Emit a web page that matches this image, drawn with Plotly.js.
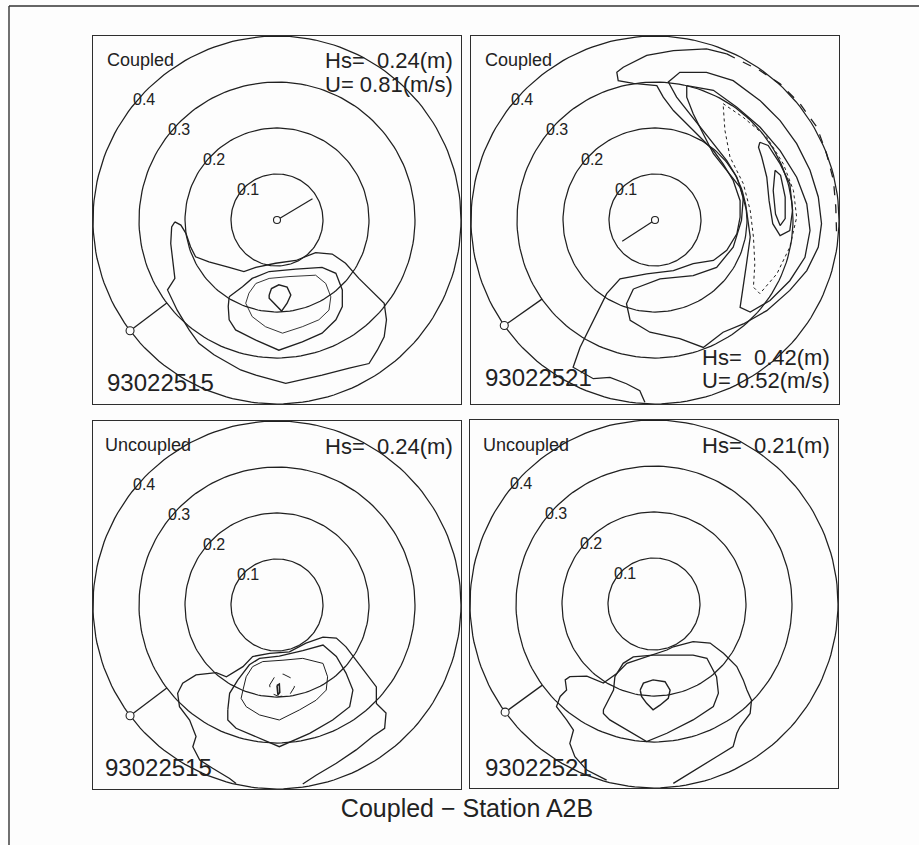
<!DOCTYPE html>
<html><head><meta charset="utf-8">
<script src="https://cdn.plot.ly/plotly-3.0.1.min.js"></script>
<style>html,body{margin:0;padding:0;background:#fdfdfd}#chart{width:919px;height:845px}</style>
</head><body><div id="chart"></div>
<script>
// ---------------- DATA ----------------
const ringFreqs = [0.1, 0.2, 0.3, 0.4];
const ringLabels = ['0.1', '0.2', '0.3', '0.4'];
const panelModes = ['Coupled', 'Coupled', 'Uncoupled', 'Uncoupled'];
const panelDates = ['93022515', '93022521', '93022515', '93022521'];
const panelHs = [0.24, 0.42, 0.24, 0.21];
const panelU = [0.81, 0.52, null, null];
const windDirDeg = [31, 213, null, null];
const windLen = [0.09, 0.085, null, null];
const stationDirDeg = [217, 215, 217, 216];
const chartTitle = 'Coupled \u2212 Station A2B';

// contour lines (fx, fy in frequency units), panel 1: Coupled 93022515
const tlOuter = [[-0.222,-0.004],[-0.209,-0.011],[-0.198,-0.029],[-0.188,-0.058],[-0.177,-0.080],[-0.148,-0.091],[-0.104,-0.103],[-0.072,-0.112],[-0.046,-0.103],[-0.003,-0.094],[0.041,-0.088],[0.084,-0.071],[0.120,-0.074],[0.149,-0.094],[0.178,-0.127],[0.207,-0.156],[0.233,-0.181],[0.238,-0.217],[0.233,-0.254],[0.218,-0.283],[0.200,-0.312],[0.157,-0.322],[0.098,-0.337],[0.019,-0.355],[-0.046,-0.337],[-0.079,-0.326],[-0.104,-0.312],[-0.137,-0.293],[-0.170,-0.268],[-0.191,-0.239],[-0.217,-0.196],[-0.238,-0.152],[-0.222,-0.127],[-0.226,-0.094],[-0.231,-0.051],[-0.229,-0.015],[-0.222,-0.004]];
const tlMid = [[-0.104,-0.167],[-0.075,-0.145],[-0.054,-0.127],[-0.017,-0.112],[0.041,-0.107],[0.098,-0.103],[0.128,-0.116],[0.142,-0.152],[0.142,-0.188],[0.128,-0.217],[0.098,-0.246],[0.055,-0.265],[0.004,-0.283],[-0.046,-0.261],[-0.090,-0.239],[-0.104,-0.217],[-0.106,-0.188],[-0.104,-0.167]];
const tlInner = [[-0.061,-0.159],[-0.046,-0.138],[-0.017,-0.127],[0.026,-0.123],[0.084,-0.120],[0.106,-0.138],[0.117,-0.167],[0.113,-0.196],[0.091,-0.217],[0.055,-0.232],[0.012,-0.246],[-0.025,-0.232],[-0.054,-0.210],[-0.068,-0.181],[-0.061,-0.159]];
const tlPeak = [[-0.017,-0.163],[-0.012,-0.149],[0.004,-0.141],[0.022,-0.146],[0.030,-0.163],[0.022,-0.181],[0.010,-0.198],[-0.003,-0.185],[-0.017,-0.170],[-0.017,-0.163]];

// panel 2: Coupled 93022521
const trOuter = [[-0.022,-0.396],[-0.033,-0.371],[-0.062,-0.356],[-0.098,-0.342],[-0.134,-0.345],[-0.178,-0.320],[-0.163,-0.277],[-0.134,-0.218],[-0.105,-0.160],[-0.076,-0.128],[-0.018,-0.117],[0.040,-0.110],[0.083,-0.095],[0.127,-0.088],[0.156,-0.066],[0.178,-0.030],[0.185,0.006],[0.185,0.042],[0.170,0.086],[0.148,0.122],[0.127,0.151],[0.083,0.195],[0.040,0.238],[0.018,0.267],[0.004,0.292],[-0.047,0.297],[-0.080,0.303],[-0.083,0.321],[-0.069,0.332],[-0.018,0.358],[0.040,0.368],[0.112,0.372],[0.156,0.361]];
const trOuterDash = [[0.156,0.361],[0.228,0.325],[0.272,0.296],[0.315,0.253],[0.352,0.202],[0.373,0.144],[0.388,0.086],[0.393,0.028],[0.395,-0.037]];
const trBand1 = [[-0.047,-0.150],[0.011,-0.128],[0.083,-0.121],[0.134,-0.103],[0.170,-0.059],[0.188,-0.001],[0.192,0.050],[0.178,0.093],[0.156,0.129],[0.127,0.166],[0.083,0.223],[0.047,0.267],[0.029,0.300],[0.054,0.321],[0.112,0.321],[0.170,0.303],[0.228,0.260],[0.272,0.216],[0.308,0.166],[0.337,0.108],[0.355,0.050],[0.362,-0.008],[0.355,-0.059],[0.330,-0.110],[0.293,-0.153],[0.243,-0.197],[0.192,-0.226],[0.148,-0.244],[0.105,-0.277],[0.054,-0.258],[-0.011,-0.244],[-0.054,-0.218],[-0.062,-0.182],[-0.047,-0.150]];
const trBand2 = [[0.069,0.292],[0.127,0.282],[0.178,0.245],[0.228,0.202],[0.272,0.151],[0.308,0.093],[0.330,0.035],[0.337,-0.023],[0.326,-0.081],[0.293,-0.132],[0.250,-0.175],[0.207,-0.200],[0.185,-0.190],[0.192,-0.146],[0.199,-0.095],[0.207,-0.037],[0.199,0.021],[0.185,0.071],[0.156,0.108],[0.127,0.144],[0.105,0.187],[0.083,0.231],[0.069,0.267],[0.069,0.292]];
const trBand3 = [[0.148,0.253],[0.192,0.223],[0.243,0.180],[0.279,0.122],[0.301,0.064],[0.308,0.006],[0.293,-0.059],[0.265,-0.117],[0.228,-0.160],[0.214,-0.146],[0.217,-0.095],[0.214,-0.037],[0.207,0.021],[0.192,0.079],[0.163,0.137],[0.152,0.195],[0.148,0.253]];
const trCore1 = [[0.228,0.169],[0.246,0.162],[0.272,0.122],[0.293,0.079],[0.299,0.021],[0.293,-0.023],[0.272,-0.034],[0.256,-0.008],[0.248,0.042],[0.243,0.093],[0.232,0.137],[0.225,0.158],[0.228,0.169]];
const trCore2 = [[0.261,0.108],[0.273,0.097],[0.283,0.050],[0.283,0.003],[0.272,-0.012],[0.262,0.013],[0.257,0.064],[0.261,0.108]];

// panel 3: Uncoupled 93022515
const blOuter = [[-0.089,-0.388],[-0.103,-0.377],[-0.140,-0.355],[-0.168,-0.337],[-0.183,-0.308],[-0.176,-0.286],[-0.190,-0.250],[-0.212,-0.221],[-0.216,-0.192],[-0.205,-0.170],[-0.176,-0.152],[-0.132,-0.147],[-0.110,-0.156],[-0.096,-0.148],[-0.074,-0.134],[-0.053,-0.112],[-0.016,-0.105],[0.027,-0.102],[0.063,-0.083],[0.100,-0.070],[0.129,-0.072],[0.150,-0.091],[0.172,-0.120],[0.194,-0.148],[0.216,-0.178],[0.216,-0.214],[0.237,-0.235],[0.234,-0.268],[0.208,-0.286],[0.172,-0.315],[0.129,-0.344],[0.085,-0.370],[0.071,-0.380],[0.056,-0.389]];
const blMid = [[-0.107,-0.228],[-0.103,-0.192],[-0.085,-0.163],[-0.060,-0.130],[-0.038,-0.116],[0.005,-0.111],[0.056,-0.099],[0.100,-0.087],[0.129,-0.112],[0.150,-0.148],[0.165,-0.185],[0.158,-0.221],[0.121,-0.250],[0.071,-0.279],[0.005,-0.308],[-0.045,-0.286],[-0.089,-0.268],[-0.107,-0.250],[-0.107,-0.228]];
const blInner = [[-0.074,-0.185],[-0.067,-0.156],[-0.053,-0.134],[-0.031,-0.123],[0.013,-0.120],[0.056,-0.116],[0.100,-0.127],[0.110,-0.156],[0.107,-0.185],[0.085,-0.207],[0.049,-0.228],[0.005,-0.250],[-0.038,-0.239],[-0.067,-0.221],[-0.078,-0.203],[-0.074,-0.185]];
const blPeak = [[-0.016,-0.174],[-0.005,-0.156],[0.013,-0.150],[0.031,-0.159],[0.038,-0.178],[0.027,-0.196],[0.005,-0.199],[-0.013,-0.192],[-0.016,-0.174]];
const blCore = [[0.000,-0.175],[0.005,-0.172],[0.006,-0.190],[0.002,-0.195],[0.000,-0.175]];

// panel 4: Uncoupled 93022521
const brOuter = [[-0.103,-0.383],[-0.146,-0.361],[-0.172,-0.332],[-0.183,-0.303],[-0.175,-0.274],[-0.190,-0.252],[-0.212,-0.223],[-0.204,-0.201],[-0.190,-0.187],[-0.193,-0.165],[-0.183,-0.158],[-0.146,-0.157],[-0.110,-0.172],[-0.081,-0.151],[-0.059,-0.129],[-0.016,-0.115],[0.028,-0.100],[0.042,-0.093],[0.085,-0.082],[0.122,-0.085],[0.151,-0.107],[0.180,-0.136],[0.194,-0.165],[0.202,-0.187],[0.212,-0.209],[0.209,-0.238],[0.187,-0.267],[0.180,-0.281],[0.172,-0.310],[0.136,-0.332],[0.100,-0.354],[0.064,-0.375],[0.042,-0.390]];
const brMid = [[-0.110,-0.230],[-0.088,-0.187],[-0.085,-0.158],[-0.067,-0.129],[-0.045,-0.115],[-0.002,-0.111],[0.042,-0.111],[0.085,-0.111],[0.115,-0.118],[0.136,-0.158],[0.140,-0.194],[0.129,-0.223],[0.085,-0.252],[0.028,-0.281],[-0.016,-0.299],[-0.059,-0.274],[-0.096,-0.252],[-0.110,-0.238],[-0.110,-0.230]];
const brPeak = [[-0.030,-0.187],[-0.023,-0.172],[-0.002,-0.165],[0.024,-0.169],[0.035,-0.187],[0.031,-0.205],[0.013,-0.220],[-0.002,-0.230],[-0.016,-0.216],[-0.027,-0.201],[-0.030,-0.187]];

// ---------------- DRAWING ----------------
const W = 919, H = 845, S = 368;
const ink = '#202020';
const panels = [
  {x0: 93, y0: 36, lines: [[tlOuter,'solid',1.3],[tlMid,'solid',1.3],[tlInner,'solid',0.9],[tlPeak,'solid',1.4]]},
  {x0: 471, y0: 36, lines: [[trOuter,'solid',1.3],[trOuterDash,'dash',1.3],[trBand1,'solid',1.3],[trBand2,'solid',1.3],[trBand3,'dot',1.0],[trCore1,'solid',1.3],[trCore2,'solid',1.3]]},
  {x0: 93, y0: 421, lines: [[blOuter,'solid',1.3],[blMid,'solid',1.3],[blInner,'solid',1.0],[blPeak,'dash',1.0],[blCore,'solid',1.6]]},
  {x0: 470, y0: 420, lines: [[brOuter,'solid',1.3],[brMid,'solid',1.3],[brPeak,'solid',1.4]]}
];
const textPos = [
  {mode:[106,60], hs:[454,61], u:[454,84], date:[106,382]},
  {mode:[484,60], hs:[831,357], u:[831,380], date:[484,377]},
  {mode:[104,445], hs:[454,446], u:null, date:[104,767]},
  {mode:[482,445], hs:[831,445], u:null, date:[484,767]}
];
const font = 'Liberation Sans, Arial, sans-serif';
const d2r = Math.PI / 180;
const traces = [];
const layout = {
  width: W, height: H, margin: {l:0, r:0, t:0, b:0},
  paper_bgcolor: '#fdfdfd', plot_bgcolor: 'rgba(0,0,0,0)', showlegend: false,
  annotations: [], shapes: [],
  title: {text: chartTitle, x: 467 / W, xanchor: 'center', y: 1 - 808 / H, yanchor: 'middle', yref: 'paper',
          font: {family: 'Liberation Sans Narrow, Liberation Sans, Arial', size: 25, color: '#222'}}
};
const nb = '\u00a0';
panels.forEach((p, i) => {
  const suf = i === 0 ? '' : String(i + 1);
  const xa = 'x' + suf, ya = 'y' + suf;
  const axCommon = {range: [-0.4, 0.4], showgrid: false, zeroline: false, showticklabels: false, ticks: '',
    showline: true, mirror: true, linecolor: '#2e2e2e', linewidth: 1.3, fixedrange: true};
  layout['xaxis' + suf] = Object.assign({}, axCommon, {domain: [p.x0 / W, (p.x0 + S) / W], anchor: ya});
  layout['yaxis' + suf] = Object.assign({}, axCommon, {domain: [1 - (p.y0 + S) / H, 1 - p.y0 / H], anchor: xa});
  // rings
  ringFreqs.forEach((r, k) => {
    const xs = [], ys = [];
    for (let t = 0; t <= 360; t += 2) { xs.push(r * Math.cos(t * d2r)); ys.push(r * Math.sin(t * d2r)); }
    traces.push({type: 'scatter', mode: 'lines', x: xs, y: ys, xaxis: xa, yaxis: ya, hoverinfo: 'skip',
      line: {color: ink, width: 1.25}});
    layout.annotations.push({xref: xa, yref: ya, x: r * Math.cos(139 * d2r), y: r * Math.sin(139 * d2r),
      text: ringLabels[k], showarrow: false, xanchor: 'left', yanchor: 'middle', xshift: -7,
      font: {family: font, size: 16, color: '#222'}});
  });
  // contours
  p.lines.forEach(([pts, dash, w]) => {
    traces.push({type: 'scatter', mode: 'lines', x: pts.map(q => q[0]), y: pts.map(q => q[1]),
      xaxis: xa, yaxis: ya, hoverinfo: 'skip', line: {color: ink, width: w, dash: dash}});
  });
  // station direction marker
  const sd = stationDirDeg[i] * d2r;
  traces.push({type: 'scatter', mode: 'lines', x: [0.3 * Math.cos(sd), 0.4 * Math.cos(sd)],
    y: [0.3 * Math.sin(sd), 0.4 * Math.sin(sd)], xaxis: xa, yaxis: ya, hoverinfo: 'skip',
    line: {color: ink, width: 1.3}});
  traces.push({type: 'scatter', mode: 'markers', x: [0.4 * Math.cos(sd)], y: [0.4 * Math.sin(sd)],
    xaxis: xa, yaxis: ya, hoverinfo: 'skip', cliponaxis: false,
    marker: {symbol: 'circle', size: 8, color: '#fdfdfd', line: {color: ink, width: 1.1}}});
  // wind marker
  if (windDirDeg[i] !== null) {
    const wd = windDirDeg[i] * d2r;
    traces.push({type: 'scatter', mode: 'lines', x: [0, windLen[i] * Math.cos(wd)], y: [0, windLen[i] * Math.sin(wd)],
      xaxis: xa, yaxis: ya, hoverinfo: 'skip', line: {color: ink, width: 1.2}});
    traces.push({type: 'scatter', mode: 'markers', x: [0], y: [0], xaxis: xa, yaxis: ya, hoverinfo: 'skip',
      marker: {symbol: 'circle', size: 7, color: '#fdfdfd', line: {color: ink, width: 1.1}}});
  }
  // texts
  const tp = textPos[i];
  const addText = (txt, pos, anchor, size) => layout.annotations.push({xref: 'paper', yref: 'paper',
    x: pos[0] / W, y: 1 - pos[1] / H, text: txt, showarrow: false, xanchor: anchor, yanchor: 'middle',
    borderpad: 0, font: {family: font, size: size, color: '#222'}});
  addText(panelModes[i], tp.mode, 'left', 18);
  addText('Hs=' + nb + nb + panelHs[i].toFixed(2) + '(m)', tp.hs, 'right', 22);
  if (panelU[i] !== null) addText('U=' + nb + panelU[i].toFixed(2) + '(m/s)', tp.u, 'right', 22);
  addText(panelDates[i], tp.date, 'left', 24);
});
// outer frame (left and top edges visible)
layout.shapes.push({type: 'line', xref: 'paper', yref: 'paper', x0: 9 / W, x1: 9 / W, y0: 0, y1: 1 - 6 / H,
  line: {color: '#333', width: 1.4}});
layout.shapes.push({type: 'line', xref: 'paper', yref: 'paper', x0: 9 / W, x1: 1, y0: 1 - 6 / H, y1: 1 - 6 / H,
  line: {color: '#333', width: 1.4}});
Plotly.newPlot('chart', traces, layout, {staticPlot: true, displayModeBar: false});
</script></body></html>
